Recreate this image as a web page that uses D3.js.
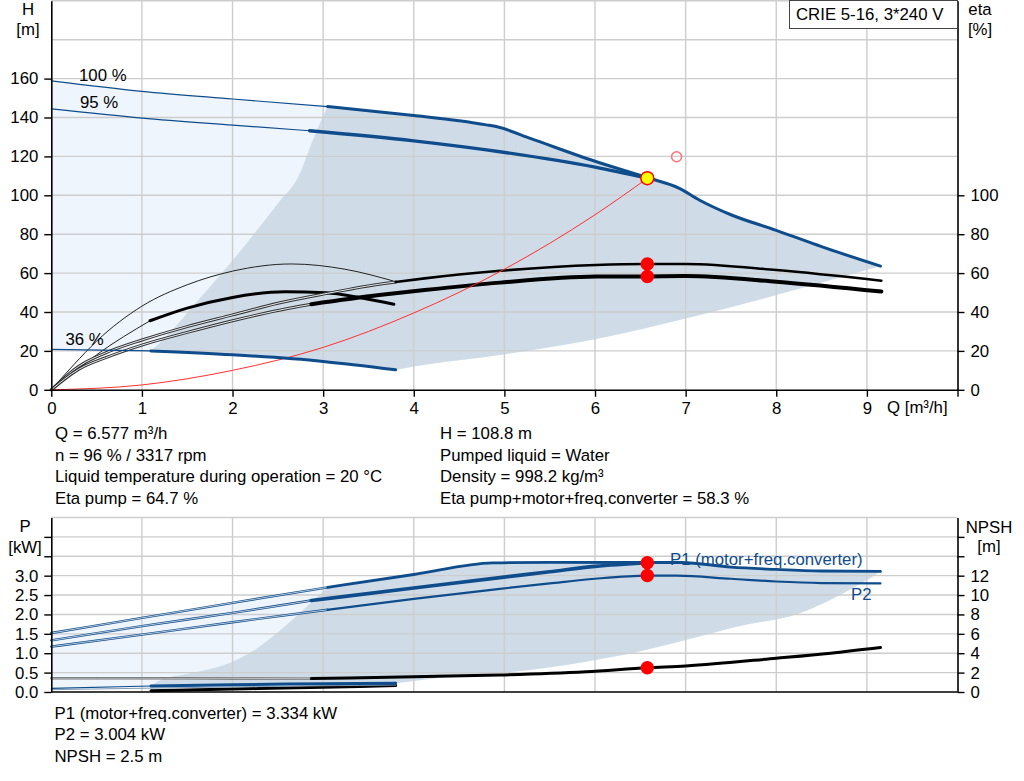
<!DOCTYPE html>
<html>
<head>
<meta charset="utf-8">
<script src="https://cdn.jsdelivr.net/npm/d3@7"></script>
<style>
body{margin:0;background:#fff;}
svg text{font-family:"Liberation Sans",Arial,sans-serif;}
</style>
</head>
<body>
<div id="Main_Part"></div>
<script>
// ---- data ----
var QTicks = [0,1,2,3,4,5,6,7,8,9,10];
var HTicks = [0,20,40,60,80,100,120,140,160];
var HGrid = [20,40,60,80,100,120,140,160,180,200];
var EtaTicks = [0,20,40,60,80,100];
var PTicks = [0,0.5,1,1.5,2,2.5,3,3.5,4];
var PGrid = [0.5,1,1.5,2,2.5,3,3.5,4,4.5];
var NpshTicks = [0,2,4,6,8,10,12,14,16];

// head curves [Q, H]
var Head100 = [[0,158.8],[1,153.4],[2,149.5],[3.05,145.6],[4,141],[4.5,138.3],[4.8,136.2],[4.92,135.2],[5.3,129],[6,117.5],[6.58,109],[6.93,103.6],[7.15,97.6],[7.5,90],[8,82],[8.5,73.6],[9.15,63.6]];
var Head95 = [[0,144.4],[1,139.7],[2,136.1],[2.85,133.2],[4,128],[4.95,122.4],[6,114.5],[6.58,108.8]];
var Head36 = [[0,20.8],[1.1,20],[2,18],[3,14.6],[3.8,10.3]];
var HeadLeftEdge = [[1.1,20],[1.3,29],[1.6,45],[2,66.5],[2.52,97],[2.72,109],[2.9,130],[3.05,145.6]];
var HeadLowEdge = [[3.8,10.3],[4,12],[4.95,17.9],[6,26],[7,36.7],[8,48.7],[8.4,53.9],[9.15,63.6]];
var SystemCurve = [[0,0],[1,2.5],[2,10],[3,21.8],[4,39.5],[5,62],[6,90],[6.58,108.8]];

// efficiency curves [Q, eta]
var EtaPump36 = [[0,0],[0.25,13],[0.5,25],[1,43],[1.5,54],[2,61],[2.65,64.7],[3.24,62],[3.77,56]];
var EtaTotal36 = [[0,0],[0.25,9],[0.5,18],[1.09,35.5],[1.5,42],[2,47.5],[2.58,50.4],[3.03,49.9],[3.4,47.5],[3.78,44]];
var EtaPump = [[0,0],[0.3,12],[0.6,19],[1,25.6],[1.5,32.5],[2,38.5],[2.5,44.5],[3.05,49.6],[3.62,54.3],[3.8,55.4],[4.12,57.3],[4.95,61.2],[6.01,64.2],[6.58,64.7],[7,64.7],[8,61.6],[9.16,56.1]];
var EtaTotal = [[0,0],[0.3,10.5],[0.6,16.5],[1,23],[1.5,29.5],[2,35.5],[2.5,40.8],[2.87,44],[3.62,48.7],[4.12,51.3],[4.95,55.1],[6.01,58.2],[6.58,58.3],[7,58.5],[8,55.6],[9.16,50.5]];

// power curves [Q, kW]
var P1Full = [[0,1.52],[1,1.91],[2,2.3],[3.05,2.7],[4,3.03],[4.87,3.33],[5.5,3.345],[6.58,3.34],[6.95,3.34],[7.5,3.22],[8,3.16],[8.5,3.12],[9.15,3.11]];
var P1Duty = [[0,1.33],[1,1.7],[2,2.04],[2.87,2.36],[4,2.68],[4.95,2.95],[5.5,3.1],[6,3.24],[6.58,3.334]];
var P2Curve = [[0,1.17],[1,1.48],[2,1.8],[3.05,2.12],[4,2.4],[4.95,2.66],[5.5,2.8],[6,2.92],[6.58,3.0],[6.9,3.0],[7.5,2.92],[8,2.85],[8.5,2.81],[9.15,2.8]];
var P1Low = [[0,0.095],[1.1,0.155],[2,0.19],[3,0.21],[3.8,0.225]];
var P2Low = [[0,0.06],[1.1,0.1],[2,0.13],[3,0.16],[3.8,0.18]];
var PLeftEdge = [[1.1,0.155],[1.2,0.3],[1.53,0.48],[1.78,0.61],[2,0.78],[2.26,1.11],[2.49,1.52],[2.78,2.12],[3.05,2.7]];
var PLowEdge = [[3.8,0.225],[4.5,0.42],[5,0.5],[5.9,0.78],[6.5,1.05],[7,1.34],[7.6,1.7],[8.26,2.03],[8.6,2.38],[8.9,2.75],[9.15,3.11]];

// NPSH curves [Q, m]
var NpshFull = [[0,1.42],[1,1.42],[2,1.4],[2.87,1.38],[4,1.58],[4.95,1.76],[5.9,2.1],[6.58,2.5],[7,2.69],[8,3.48],[8.6,4.0],[9.15,4.58]];
var NpshLow = [[1.1,0.13],[2,0.3],[3,0.5],[3.8,0.66]];

// duty point
var DutyQ = 6.577, DutyH = 108.8, DutyEtaPump = 64.7, DutyEtaTotal = 58.3;
var DutyP1 = 3.334, DutyP2 = 3.004, DutyNpsh = 2.5;
var RefQ = 6.9, RefH = 119.8;

var InfoLeft = ["Q = 6.577 m³/h","n = 96 % / 3317 rpm","Liquid temperature during operation = 20 °C","Eta pump = 64.7 %"];
var InfoRight = ["H = 108.8 m","Pumped liquid = Water","Density = 998.2 kg/m³","Eta pump+motor+freq.converter = 58.3 %"];
var InfoPower = ["P1 (motor+freq.converter) = 3.334 kW","P2 = 3.004 kW","NPSH = 2.5 m"];

// ---- styles ----
var FontSize = 16.8;
var BlueLine = "#0f4c8c";
var LightFill = "#eef5fc";
var GreyFill = "#cfdce8";
var GridColor = "#cdcdcd";

var svg = d3.select('#Main_Part')
	.append("svg")
	.attr("width",1024)
	.attr("height",781);

var x = d3.scaleLinear().domain([0,10]).range([51.3,957.5]);
var yH = d3.scaleLinear().domain([0,200]).range([389.8,0.8]);
var yP = d3.scaleLinear().domain([0,4.5]).range([692,517.5]);
var yN = d3.scaleLinear().domain([0,18]).range([692,517.5]);

function PathOf(pts,ys)
{
	return d3.line()
		.x(function(d){ return x(d[0]); })
		.y(function(d){ return ys(d[1]); })
		.curve(d3.curveMonotoneX)(pts);
}

// glue several edges into one closed outline
function Outline(edges,ys)
{
	var s = "";
	edges.forEach(function(e,i){
		var p = PathOf(e,ys);
		s += (i==0) ? p : p.replace(/^M/,"L");
	});
	return s + "Z";
}

function Part(pts,from,to)
{
	return pts.filter(function(d){ return d[0]>=from-1e-9 && d[0]<=to+1e-9; });
}

function Rev(pts)
{
	return pts.slice().reverse();
}

function Curve(g,pts,ys,color,width)
{
	g.append("path")
		.attr("d",PathOf(pts,ys))
		.style("fill","none")
		.style("stroke",color)
		.style("stroke-width",width)
		.style("stroke-linecap","round")
		.style("stroke-linejoin","round");
}

function DoubleCurve(g,pts,ys,color,inner,w)
{
	w = w || 3;
	Curve(g,pts,ys,color,w);
	Curve(g,pts,ys,inner,w/3);
}

function Grid(g,ys,values,top,bottom)
{
	g.selectAll(null)
		.data(values)
		.enter()
		.append("line")
		.attr("x1",x(0)).attr("x2",x(10))
		.attr("y1",function(d){ return ys(d); })
		.attr("y2",function(d){ return ys(d); })
		.style("stroke",GridColor).style("stroke-width",1.4);
	g.selectAll(null)
		.data(QTicks.slice(1,10))
		.enter()
		.append("line")
		.attr("x1",function(d){ return x(d); })
		.attr("x2",function(d){ return x(d); })
		.attr("y1",top).attr("y2",bottom)
		.style("stroke",GridColor).style("stroke-width",1.4);
}

function Dot(g,q,v,ys,r,fill,stroke)
{
	g.append("circle")
		.attr("cx",x(q))
		.attr("cy",ys(v))
		.attr("r",r)
		.style("fill",fill)
		.style("stroke",stroke)
		.style("stroke-width",1.5);
}

function Label(g,txt,px,py,anchor,color)
{
	g.append("text")
		.attr("x",px)
		.attr("y",py)
		.attr("text-anchor",anchor || "start")
		.style("font-size",FontSize+"px")
		.style("fill",color || "#000")
		.text(txt);
}

function StyleAxis(a)
{
	a.selectAll("path").style("stroke","#000").style("stroke-width",1.6);
	a.selectAll("line").style("stroke","#000").style("stroke-width",1.4);
	a.selectAll("text").style("font-size",FontSize+"px").style("fill","#000")
		.style("font-family","'Liberation Sans',Arial,sans-serif");
}

// ================= upper chart: H / eta =================
var Top = svg.append("g");

Top.append("path")
	.attr("d",Outline([Head100,Rev(HeadLowEdge),Rev(Head36)],yH))
	.style("fill",LightFill);
Top.append("path")
	.attr("d",Outline([Part(Head100,3.05,9.15),Rev(HeadLowEdge),Rev(Part(Head36,1.1,3.8)),HeadLeftEdge],yH))
	.style("fill",GreyFill);

Grid(Top,yH,HGrid,yH(200),yH(0));

// efficiency
Curve(Top,Part(EtaPump36,0,3.77),yH,"#222",1);
Curve(Top,Part(EtaTotal36,0,1.09),yH,"#222",1);
Curve(Top,Part(EtaTotal36,1.09,3.78),yH,"#000",3);
DoubleCurve(Top,Part(EtaPump,0,3.8),yH,"#333","#e6ecf2");
DoubleCurve(Top,Part(EtaTotal,0,2.87),yH,"#333","#e6ecf2");
Curve(Top,Part(EtaPump,3.8,9.16),yH,"#000",2.6);
Curve(Top,Part(EtaTotal,2.87,9.16),yH,"#000",4);

// system curve
Curve(Top,SystemCurve,yH,"#ff3030",1);

// head
Curve(Top,Part(Head100,0,3.05),yH,BlueLine,1.2);
Curve(Top,Part(Head100,3.05,9.15),yH,BlueLine,3);
Curve(Top,Part(Head95,0,2.85),yH,BlueLine,1.2);
Curve(Top,Part(Head95,2.85,6.58),yH,BlueLine,3.4);
Curve(Top,Part(Head36,0,1.1),yH,BlueLine,1.2);
Curve(Top,Part(Head36,1.1,3.8),yH,BlueLine,3);

Label(Top,"100 %",79,80.5);
Label(Top,"95 %",80,107.5);
Label(Top,"36 %",65.5,344.5);

// axes
var TopX = Top.append("g")
	.attr("transform","translate(0,"+yH(0)+")")
	.call(d3.axisBottom(x).tickValues(QTicks).tickSize(7).tickSizeOuter(0).tickPadding(5)
		.tickFormat(function(d){ return d<10 ? d : ""; }));
StyleAxis(TopX);

var TopL = Top.append("g")
	.attr("transform","translate("+x(0)+",0)")
	.call(d3.axisLeft(yH).tickValues(HTicks).tickSize(7).tickSizeOuter(0).tickPadding(6));
StyleAxis(TopL);

var TopR = Top.append("g")
	.attr("transform","translate("+x(10)+",0)")
	.call(d3.axisRight(yH).tickValues(EtaTicks).tickSize(7).tickSizeOuter(0).tickPadding(6));
StyleAxis(TopR);

Label(Top,"H",28,15,"middle");
Label(Top,"[m]",28,35,"middle");
Label(Top,"eta",980,15,"middle");
Label(Top,"[%]",980,35,"middle");
Label(Top,"Q [m³/h]",887,413);

// product box
Top.append("rect")
	.attr("x",789.5).attr("y",0.5)
	.attr("width",x(10)-789.5).attr("height",28)
	.style("fill","#fff")
	.style("stroke","#444")
	.style("stroke-width",1);
Label(Top,"CRIE 5-16, 3*240 V",796,19.5);

// duty point markers
Dot(Top,RefQ,RefH,yH,5,"none","#ff7070");
Dot(Top,DutyQ,DutyEtaPump,yH,6,"#ff0000","#ff0000");
Dot(Top,DutyQ,DutyEtaTotal,yH,6,"#ff0000","#ff0000");
Dot(Top,DutyQ,DutyH,yH,6.5,"#ffff00","#ff0000");

// info text
InfoLeft.forEach(function(t,i){ Label(svg,t,55,439+i*21.5); });
InfoRight.forEach(function(t,i){ Label(svg,t,440,439+i*21.5); });

// ================= lower chart: P / NPSH =================
var Bot = svg.append("g");

Bot.append("path")
	.attr("d",Outline([P1Full,Rev(PLowEdge),Rev(P1Low)],yP))
	.style("fill",LightFill);
Bot.append("path")
	.attr("d",Outline([Part(P1Full,3.05,9.15),Rev(PLowEdge),Rev(Part(P1Low,1.1,3.8)),PLeftEdge],yP))
	.style("fill",GreyFill);

Grid(Bot,yP,PGrid,yP(4.5),yP(0));

// NPSH
DoubleCurve(Bot,Part(NpshFull,0,2.87),yN,"#6f6f6f","#c8ccd0",2.4);
Curve(Bot,Part(NpshFull,2.87,9.15),yN,"#000",3);
Curve(Bot,NpshLow,yN,"#000",3);

// power
Curve(Bot,P2Low,yP,"#7f9ab8",1);
Curve(Bot,Part(P1Low,0,1.1),yP,BlueLine,1.2);
Curve(Bot,Part(P1Low,1.1,3.8),yP,BlueLine,3);
DoubleCurve(Bot,Part(P1Full,0,3.05),yP,BlueLine,"#dfe8f2",2.4);
DoubleCurve(Bot,Part(P1Duty,0,2.87),yP,BlueLine,"#dfe8f2",2.4);
DoubleCurve(Bot,Part(P2Curve,0,3.05),yP,BlueLine,"#dfe8f2",2.4);
Curve(Bot,Part(P1Full,3.05,9.15),yP,BlueLine,2.8);
Curve(Bot,Part(P2Curve,3.05,9.15),yP,BlueLine,2.2);
Curve(Bot,Part(P1Duty,2.87,6.58),yP,BlueLine,3.6);

Label(Bot,"P1 (motor+freq.converter)",670,565,"start",BlueLine);
Label(Bot,"P2",851,600,"start",BlueLine);

// axes
Bot.append("line")
	.attr("x1",x(0)).attr("x2",x(10))
	.attr("y1",yP(0)).attr("y2",yP(0))
	.style("stroke","#000").style("stroke-width",1.6);

var BotL = Bot.append("g")
	.attr("transform","translate("+x(0)+",0)")
	.call(d3.axisLeft(yP).tickValues(PTicks).tickSize(7).tickSizeOuter(0).tickPadding(6)
		.tickFormat(function(d){ return d<=3 ? d3.format(".1f")(d) : ""; }));
StyleAxis(BotL);

var BotR = Bot.append("g")
	.attr("transform","translate("+x(10)+",0)")
	.call(d3.axisRight(yN).tickValues(NpshTicks).tickSize(7).tickSizeOuter(0).tickPadding(6)
		.tickFormat(function(d){ return d<=12 ? d : ""; }));
StyleAxis(BotR);

Label(Bot,"P",25,532,"middle");
Label(Bot,"[kW]",25,553,"middle");
Label(Bot,"NPSH",989,533,"middle");
Label(Bot,"[m]",989,552,"middle");

Dot(Bot,DutyQ,DutyP1,yP,6,"#ff0000","#ff0000");
Dot(Bot,DutyQ,DutyP2,yP,6,"#ff0000","#ff0000");
Dot(Bot,DutyQ,DutyNpsh,yN,6,"#ff0000","#ff0000");

InfoPower.forEach(function(t,i){ Label(svg,t,54.5,718.5+i*21.5); });
</script>
</body>
</html>
